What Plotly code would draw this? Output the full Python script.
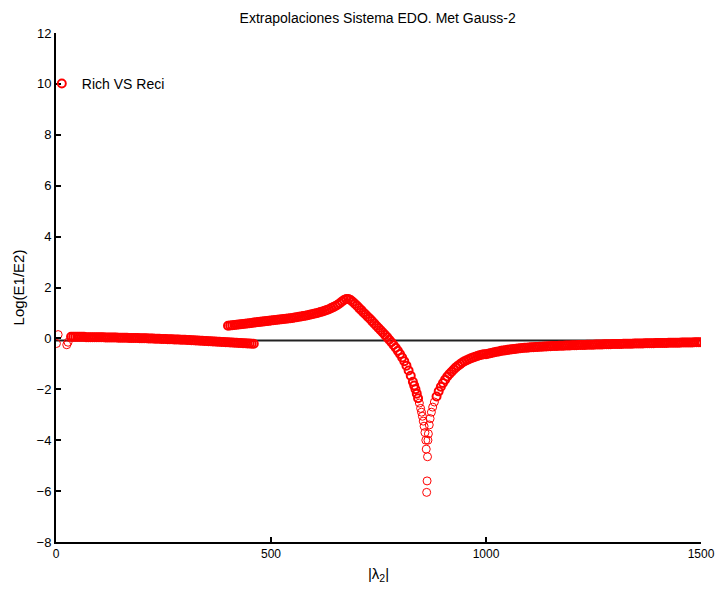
import plotly.graph_objects as go

# ---------------- data ----------------
# scattered start points
start_lam = [1, 5, 25, 28]
start_val = [-0.20, 0.15, -0.25, -0.15]

# first branch, |lambda2| = 35 .. 460 step 5
seg1_lam = list(range(35, 461, 5))
seg1_val = [0.06, 0.06, 0.06, 0.06, 0.06, 0.06, 0.06, 0.05, 0.05, 0.05, 0.05, 0.05, 0.05, 0.05,
            0.05, 0.05, 0.04, 0.04, 0.04, 0.04, 0.04, 0.04, 0.03, 0.03, 0.03, 0.03, 0.03, 0.02, 0.02, 0.02, 0.02, 0.02, 0.01, 0.01,
            0.01, 0.01, 0.00, 0.00, 0.00, -0.01, -0.01, -0.01, -0.02, -0.02, -0.02, -0.03, -0.03, -0.03, -0.04, -0.04, -0.04, -0.05, -0.05, -0.05,
            -0.06, -0.06, -0.07, -0.07, -0.08, -0.08, -0.09, -0.09, -0.10, -0.10, -0.11, -0.11, -0.12, -0.12, -0.13, -0.13, -0.14, -0.14, -0.15, -0.15,
            -0.16, -0.16, -0.17, -0.17, -0.18, -0.18, -0.19, -0.19, -0.20, -0.20, -0.21, -0.21]

# second branch, rising part 400 .. 670 step 5
seg2_lam = list(range(400, 671, 5))
seg2_val = [0.50, 0.51, 0.52, 0.53, 0.54, 0.55, 0.56, 0.57, 0.58, 0.59, 0.60, 0.61, 0.62, 0.63, 0.64, 0.65,
            0.66, 0.67, 0.68, 0.69, 0.70, 0.71, 0.72, 0.73, 0.74, 0.75, 0.76, 0.77, 0.78, 0.79, 0.80, 0.82,
            0.83, 0.85, 0.86, 0.88, 0.89, 0.91, 0.93, 0.95, 0.97, 0.99, 1.01, 1.04, 1.06, 1.09, 1.12, 1.15,
            1.19, 1.23, 1.27, 1.32, 1.38, 1.45, 1.51]

# peak, fall and dip
seg3_lam = [675, 680, 685, 690, 695, 700, 705, 710, 715, 720, 725, 730, 735, 740, 745, 750, 755, 760, 765, 770,
            775, 780, 785, 790, 795, 800, 805, 810, 815, 820, 825, 830, 833, 836, 839, 842, 845, 848, 850, 852,
            854, 856, 858, 860, 861, 862, 863, 864, 865, 866, 868, 870, 873, 876, 880, 885, 890, 895, 900, 905,
            910, 915, 920, 925, 930, 935, 940, 945, 950, 955, 960, 965, 970, 975, 980, 985, 990, 995]
seg3_val = [1.55, 1.55, 1.51, 1.44, 1.36, 1.28, 1.19, 1.11, 1.02, 0.94, 0.85, 0.77, 0.68, 0.59, 0.50, 0.41, 0.32, 0.23, 0.14, 0.05,
            -0.05, -0.15, -0.26, -0.37, -0.49, -0.61, -0.75, -0.90, -1.07, -1.26, -1.47, -1.70, -1.85, -2.00, -2.17, -2.35, -2.54, -2.75, -2.90, -3.06,
            -3.25, -3.45, -3.70, -4.00, -4.35, -6.05, -5.60, -4.65, -4.00, -3.75, -3.40, -3.15, -2.90, -2.70, -2.50, -2.28, -2.08, -1.90, -1.75, -1.62,
            -1.50, -1.40, -1.31, -1.22, -1.14, -1.07, -1.01, -0.95, -0.90, -0.86, -0.82, -0.78, -0.75, -0.72, -0.69, -0.66, -0.64, -0.62]

# tail, 1000 .. 1500 step 5
seg4_lam = list(range(1000, 1501, 5))
seg4_val = [-0.62, -0.60, -0.58, -0.56, -0.54, -0.52, -0.51, -0.49, -0.48, -0.47, -0.45, -0.44, -0.43, -0.42, -0.41, -0.40, -0.39, -0.38, -0.37, -0.37, -0.36,
            -0.35, -0.35, -0.34, -0.34, -0.33, -0.33, -0.32, -0.32, -0.31, -0.31, -0.30, -0.30, -0.30, -0.29, -0.29, -0.29, -0.28, -0.28, -0.28, -0.27,
            -0.27, -0.27, -0.26, -0.26, -0.26, -0.26, -0.25, -0.25, -0.25, -0.25, -0.24, -0.24, -0.24, -0.24, -0.23, -0.23, -0.23, -0.23, -0.22, -0.22,
            -0.22, -0.22, -0.22, -0.21, -0.21, -0.21, -0.21, -0.21, -0.20, -0.20, -0.20, -0.20, -0.20, -0.19, -0.19, -0.19, -0.19, -0.19, -0.18, -0.18,
            -0.18, -0.18, -0.18, -0.18, -0.17, -0.17, -0.17, -0.17, -0.17, -0.17, -0.16, -0.16, -0.16, -0.16, -0.16, -0.16, -0.15, -0.15, -0.15, -0.15]

# reference line
ref_lam = [0, 1500]
ref_val = [-0.08, -0.08]

x_ticks = [0, 500, 1000, 1500]
y_ticks = [-8, -6, -4, -2, 0, 2, 4, 6, 8, 10, 12]

lam = start_lam + seg1_lam + seg2_lam + seg3_lam + seg4_lam
val = start_val + seg1_val + seg2_val + seg3_val + seg4_val

# thin circle rims where points stand alone (start, steep dip), thicker where they crowd together
n_start = len(start_lam)
rim = [1.0 if (i < n_start or v < -2.4) else 2.0 for i, v in enumerate(val)]

FONT = "Liberation Sans, Arial, sans-serif"

fig = go.Figure()
fig.add_trace(go.Scatter(x=ref_lam, y=ref_val, mode="lines",
                         line=dict(color="#222222", width=2), showlegend=False, hoverinfo="skip"))
fig.add_trace(go.Scatter(x=lam, y=val, mode="markers", name="Rich VS Reci",
                         marker=dict(symbol="circle-open", size=8, color="#FF0000",
                                     line=dict(width=rim, color="#FF0000"))))

fig.update_layout(
    width=718, height=592,
    margin=dict(l=56, r=17, t=33, b=50, autoexpand=False),
    paper_bgcolor="white", plot_bgcolor="white",
    font=dict(family=FONT, color="black", size=12),
    title=dict(text="Extrapolaciones Sistema EDO. Met Gauss-2", x=0.526, xanchor="center",
               y=1 - 18 / 592, yanchor="middle", font=dict(size=14)),
    legend=dict(x=-0.022, y=0.9, xanchor="left", yanchor="middle", bgcolor="rgba(0,0,0,0)",
                borderwidth=0, font=dict(size=14), itemwidth=30),
    showlegend=True,
)
fig.update_xaxes(range=[0, 1500], tickvals=x_ticks, showgrid=False, zeroline=False,
                 showline=True, linecolor="black", linewidth=2, ticks="inside", ticklen=5,
                 tickwidth=2, tickcolor="black", tickfont=dict(size=12), automargin=False,
                 title=dict(text="|λ<sub>2</sub>|", font=dict(size=15), standoff=8))
fig.update_yaxes(range=[-8, 12], tickvals=y_ticks, showgrid=False, zeroline=False,
                 showline=True, linecolor="black", linewidth=2, ticks="inside", ticklen=5,
                 tickwidth=2, tickcolor="black", tickfont=dict(size=13), automargin=False,
                 title=dict(text="Log(E1/E2)", font=dict(size=15), standoff=8))

fig.write_html("out.html")
